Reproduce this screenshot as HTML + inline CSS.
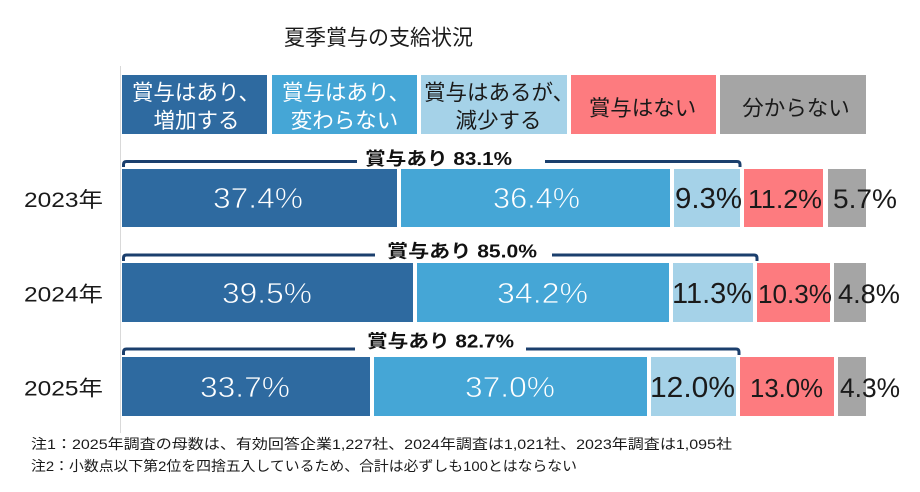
<!DOCTYPE html>
<html>
<head>
<meta charset="utf-8">
<style>
  html,body{margin:0;padding:0;background:#fff;}
  svg{display:block;}
  text{font-family:"Liberation Sans","Noto Sans CJK JP",sans-serif;}
</style>
</head>
<body>
<svg width="920" height="492" viewBox="0 0 920 492" xmlns="http://www.w3.org/2000/svg">
  <rect width="920" height="492" fill="#fff"/>
  <!-- title -->
  <text x="378.5" y="45" font-size="21.5" text-anchor="middle" fill="#1a1a1a" textLength="189" lengthAdjust="spacingAndGlyphs">夏季賞与の支給状況</text>

  <!-- axis line -->
  <line x1="120.5" y1="66" x2="120.5" y2="433" stroke="#d9d9d9" stroke-width="1"/>

  <!-- legend -->
  <rect x="122" y="75" width="145" height="59" fill="#2e6aa0"/>
  <rect x="272" y="75" width="145" height="59" fill="#45a6d6"/>
  <rect x="421" y="75" width="146" height="59" fill="#a5d2e8"/>
  <rect x="571" y="75" width="145" height="59" fill="#fd7b7f"/>
  <rect x="720" y="75" width="146" height="59" fill="#a5a5a5"/>
  <g font-size="21.5">
    <text x="196" y="100" text-anchor="middle" fill="#fff">賞与はあり、</text>
    <text x="196.5" y="128" text-anchor="middle" fill="#fff">増加する</text>
    <text x="346" y="100" text-anchor="middle" fill="#fff">賞与はあり、</text>
    <text x="344.5" y="128" text-anchor="middle" fill="#fff">変わらない</text>
    <text x="424" y="100" text-anchor="start" fill="#1a1a1a">賞与はあるが、</text>
    <text x="498.5" y="128" text-anchor="middle" fill="#1a1a1a">減少する</text>
    <text x="642.5" y="115.5" text-anchor="middle" fill="#1a1a1a">賞与はない</text>
    <text x="796" y="115.5" text-anchor="middle" fill="#1a1a1a">分からない</text>
  </g>

  <!-- year labels -->
  <g font-size="21" fill="#1a1a1a">
    <text x="24" y="207" textLength="79" lengthAdjust="spacingAndGlyphs">2023年</text>
    <text x="24" y="301.5" textLength="79" lengthAdjust="spacingAndGlyphs">2024年</text>
    <text x="24" y="395.5" textLength="79" lengthAdjust="spacingAndGlyphs">2025年</text>
  </g>

  <!-- 2023 bar -->
  <rect x="122" y="169" width="275" height="58" fill="#2e6aa0"/>
  <rect x="401" y="169" width="269" height="58" fill="#45a6d6"/>
  <rect x="674" y="169" width="66" height="58" fill="#a5d2e8"/>
  <rect x="744" y="169" width="79" height="58" fill="#fd7b7f"/>
  <rect x="828" y="169" width="38" height="58" fill="#a5a5a5"/>

  <!-- 2024 bar -->
  <rect x="122" y="263" width="291" height="59" fill="#2e6aa0"/>
  <rect x="417" y="263" width="252" height="59" fill="#45a6d6"/>
  <rect x="673" y="263" width="80" height="59" fill="#a5d2e8"/>
  <rect x="757" y="263" width="73" height="59" fill="#fd7b7f"/>
  <rect x="834" y="263" width="32" height="59" fill="#a5a5a5"/>

  <!-- 2025 bar -->
  <rect x="122" y="357" width="248" height="59" fill="#2e6aa0"/>
  <rect x="374" y="357" width="273" height="59" fill="#45a6d6"/>
  <rect x="651" y="357" width="85" height="59" fill="#a5d2e8"/>
  <rect x="740" y="357" width="94" height="59" fill="#fd7b7f"/>
  <rect x="838" y="357" width="28" height="59" fill="#a5a5a5"/>

  <!-- brackets -->
  <g fill="none" stroke="#1b3f6d" stroke-width="3" stroke-linecap="butt">
    <path d="M123.5,167 L123.5,164.5 Q123.5,161.5 126.5,161.5 L357,161.5"/>
    <path d="M545,161.5 L737,161.5 Q740,161.5 740,164.5 L740,167"/>
    <path d="M123.5,261 L123.5,258 Q123.5,255 126.5,255 L375,255"/>
    <path d="M552,255 L754,255 Q757,255 757,258 L757,261"/>
    <path d="M123.5,355 L123.5,352 Q123.5,349 126.5,349 L355,349"/>
    <path d="M526,349 L736,349 Q739,349 739,352 L739,355"/>
  </g>
  <g font-size="18" font-weight="bold" fill="#111">
    <text x="365" y="165" textLength="147" lengthAdjust="spacingAndGlyphs">賞与あり 83.1%</text>
    <text x="387" y="257.5" textLength="150" lengthAdjust="spacingAndGlyphs">賞与あり 85.0%</text>
    <text x="367" y="347.5" textLength="147" lengthAdjust="spacingAndGlyphs">賞与あり 82.7%</text>
  </g>

  <!-- data labels -->
  <g text-anchor="middle">
    <!-- 2023 -->
    <text x="258" y="208" font-size="29" fill="#fff" stroke="#2e6aa0" stroke-width="0.7" textLength="90" lengthAdjust="spacingAndGlyphs">37.4%</text>
    <text x="536.5" y="208" font-size="29" fill="#fff" stroke="#45a6d6" stroke-width="0.7" textLength="87" lengthAdjust="spacingAndGlyphs">36.4%</text>
    <text x="708.5" y="208" font-size="29" fill="#1a1a1a" textLength="67" lengthAdjust="spacingAndGlyphs">9.3%</text>
    <text x="785" y="208" font-size="26" fill="#1a1a1a" textLength="74" lengthAdjust="spacingAndGlyphs">11.2%</text>
    <text x="865" y="208" font-size="27" fill="#1a1a1a" textLength="64" lengthAdjust="spacingAndGlyphs">5.7%</text>
    <!-- 2024 -->
    <text x="267" y="303" font-size="29" fill="#fff" stroke="#2e6aa0" stroke-width="0.7" textLength="90" lengthAdjust="spacingAndGlyphs">39.5%</text>
    <text x="542.5" y="303" font-size="29" fill="#fff" stroke="#45a6d6" stroke-width="0.7" textLength="91" lengthAdjust="spacingAndGlyphs">34.2%</text>
    <text x="712" y="303" font-size="29" fill="#1a1a1a" textLength="80" lengthAdjust="spacingAndGlyphs">11.3%</text>
    <text x="795" y="303" font-size="26" fill="#1a1a1a" textLength="74" lengthAdjust="spacingAndGlyphs">10.3%</text>
    <text x="869" y="303" font-size="27" fill="#1a1a1a" textLength="62" lengthAdjust="spacingAndGlyphs">4.8%</text>
    <!-- 2025 -->
    <text x="245" y="397" font-size="29" fill="#fff" stroke="#2e6aa0" stroke-width="0.7" textLength="90" lengthAdjust="spacingAndGlyphs">33.7%</text>
    <text x="510" y="397" font-size="29" fill="#fff" stroke="#45a6d6" stroke-width="0.7" textLength="90" lengthAdjust="spacingAndGlyphs">37.0%</text>
    <text x="692.5" y="397" font-size="29" fill="#1a1a1a" textLength="85" lengthAdjust="spacingAndGlyphs">12.0%</text>
    <text x="786.5" y="397" font-size="26" fill="#1a1a1a" textLength="73" lengthAdjust="spacingAndGlyphs">13.0%</text>
    <text x="870" y="397" font-size="27" fill="#1a1a1a" textLength="60" lengthAdjust="spacingAndGlyphs">4.3%</text>
  </g>

  <!-- footnotes -->
  <g font-size="14" fill="#1a1a1a">
    <text x="31" y="449" textLength="701" lengthAdjust="spacingAndGlyphs">注1：2025年調査の母数は、有効回答企業1,227社、2024年調査は1,021社、2023年調査は1,095社</text>
    <text x="31" y="471" textLength="546" lengthAdjust="spacingAndGlyphs">注2：小数点以下第2位を四捨五入しているため、合計は必ずしも100とはならない</text>
  </g>
</svg>
</body>
</html>
